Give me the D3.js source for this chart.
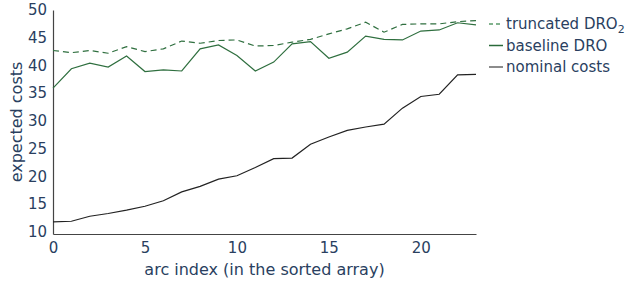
<!DOCTYPE html>
<html>
<head>
<meta charset="utf-8">
<script src="https://cdn.jsdelivr.net/npm/d3@7"></script>
<style>
  body { margin: 0; background: #fff; }
  svg text { font-family: "DejaVu Sans", Verdana, sans-serif; fill: #2a3f5f; }
</style>
</head>
<body>
<svg id="chart" width="632" height="282"></svg>
<script>
// values
const arcIndex = d3.range(24);
const nominal = [11.8, 11.9, 12.8, 13.3, 13.9, 14.6, 15.6, 17.2, 18.2, 19.5, 20.1, 21.6,
                 23.2, 23.3, 25.8, 27.1, 28.3, 28.9, 29.4, 32.3, 34.4, 34.8, 38.3, 38.4];
const baseline = [35.9, 39.4, 40.4, 39.7, 41.7, 38.9, 39.2, 39.0, 43.0, 43.7, 41.8, 39.0,
                  40.6, 43.9, 44.3, 41.3, 42.4, 45.3, 44.7, 44.6, 46.2, 46.4, 47.7, 47.3];
const truncated = [42.7, 42.3, 42.7, 42.2, 43.4, 42.5, 43.0, 44.4, 44.0, 44.5, 44.6, 43.5,
                   43.6, 44.2, 44.7, 45.7, 46.6, 47.8, 46.0, 47.4, 47.5, 47.5, 47.9, 48.1];
const yTicks = [10, 15, 20, 25, 30, 35, 40, 45, 50];
const xTicks = [0, 5, 10, 15, 20];

const svg = d3.select('#chart');
const mLeft = 53, mRight = 476, mTop = 10, mBottom = 234;

const x = d3.scaleLinear().domain([0, 23]).range([mLeft, mRight]);
const y = d3.scaleLinear().domain([9.6, 50]).range([mBottom, mTop]);

// axes
const xAxis = svg.append('g').attr('transform', `translate(0,${mBottom})`)
  .call(d3.axisBottom(x).tickValues(xTicks).tickSize(0).tickPadding(6));
const yAxis = svg.append('g').attr('transform', `translate(${mLeft},0)`)
  .call(d3.axisLeft(y).tickValues(yTicks).tickSize(0).tickPadding(6));
[xAxis, yAxis].forEach(a => {
  a.select('.domain').attr('stroke', '#444').attr('stroke-width', 1.2);
  a.selectAll('text').style('font-size', '15px').attr('fill', '#2a3f5f');
});
xAxis.selectAll('text').attr('dy', '0.85em');

svg.append('text')
  .attr('x', (mLeft + mRight) / 2).attr('y', 275)
  .attr('text-anchor', 'middle').style('font-size', '16px')
  .text('arc index (in the sorted array)');
svg.append('text')
  .attr('transform', `translate(22,${(mTop + mBottom) / 2}) rotate(-90)`)
  .attr('text-anchor', 'middle').style('font-size', '16px')
  .text('expected costs');

const line = d3.line().x((d, i) => x(arcIndex[i])).y(d => y(d));

svg.append('path').datum(nominal).attr('d', line)
  .attr('fill', 'none').attr('stroke', '#222').attr('stroke-width', 1.2);
svg.append('path').datum(baseline).attr('d', line)
  .attr('fill', 'none').attr('stroke', '#2f6f3f').attr('stroke-width', 1.2);
svg.append('path').datum(truncated).attr('d', line)
  .attr('fill', 'none').attr('stroke', '#2f6f3f').attr('stroke-width', 1.2)
  .attr('stroke-dasharray', '6,4');

// legend
const legend = [
  { name: 'truncated DRO', sub: '2', color: '#5a9a6a', dash: '4,3' },
  { name: 'baseline DRO', color: '#2a6a3a', dash: null },
  { name: 'nominal costs', color: '#666', dash: null }
];
const lg = svg.append('g').attr('transform', 'translate(487,24)');
legend.forEach((d, i) => {
  const g = lg.append('g').attr('transform', `translate(0,${i * 21.5})`);
  g.append('line').attr('x1', 2).attr('x2', 16)
    .attr('stroke', d.color).attr('stroke-width', 1.5)
    .attr('stroke-dasharray', d.dash);
  const t = g.append('text').attr('x', 19).attr('dy', '0.35em')
    .style('font-size', '15px').text(d.name);
  if (d.sub) t.append('tspan').attr('dy', 4).style('font-size', '11px').text(d.sub);
});
</script>
</body>
</html>
